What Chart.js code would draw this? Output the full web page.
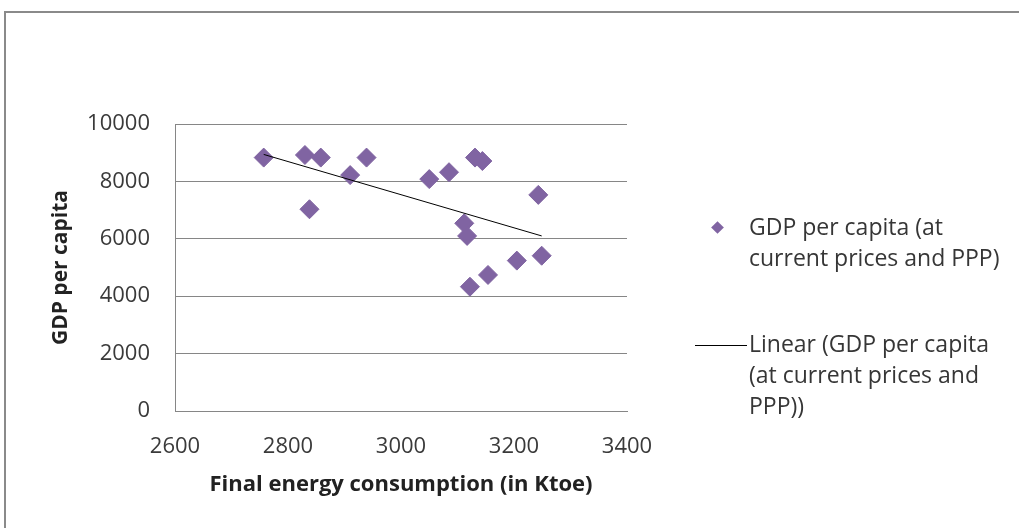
<!DOCTYPE html>
<html>
<head>
<meta charset="utf-8">
<script src="https://cdn.jsdelivr.net/npm/chart.js@4.4.1/dist/chart.umd.min.js"></script>
<style>
  html, body { margin: 0; padding: 0; background: #ffffff; }
  #wrap { position: relative; width: 1019px; height: 528px; overflow: hidden; }
  #chart { position: absolute; left: 0; top: 0; }
  .legend-item { position: absolute; font-family: "Open Sans", sans-serif; font-size: 23px; line-height: 31px; color: #363636; white-space: nowrap; }
  .legend-diamond { position: absolute; width: 9px; height: 9px; background: #8064A2; transform: rotate(45deg); }
  .legend-line { position: absolute; height: 1px; background: #000000; }
</style>
</head>
<body>
<div id="wrap">
  <canvas id="chart" width="1019" height="528"></canvas>
  <div class="legend-diamond" style="left:713px; top:223px;"></div>
  <div class="legend-item" style="left:749px; top:211px;">GDP per capita (at<br>current prices and PPP)</div>
  <div class="legend-line" style="left:695px; top:345px; width:52px;"></div>
  <div class="legend-item" style="left:749px; top:328px;">Linear (GDP per capita<br>(at current prices and<br>PPP))</div>
</div>
<script>
// Final energy consumption (Ktoe) against GDP per capita, one point per year
const energyKtoe = [2757, 2830, 2858, 2939, 2910, 2838, 3050, 3085, 3131, 3144, 3243, 3112, 3117, 3249, 3205, 3154, 3122];
const gdpPerCapita = [8830, 8920, 8830, 8830, 8220, 7030, 8080, 8320, 8830, 8710, 7530, 6540, 6100, 5410, 5240, 4740, 4330];

// Linear trend line end points
const trendEnergy = [2757, 3249];
const trendGdp = [8940, 6100];

// Axis ticks
const xTickValues = [2600, 2800, 3000, 3200, 3400];
const yTickValues = [0, 2000, 4000, 6000, 8000, 10000];

const seriesLabel = 'GDP per capita (at current prices and PPP)';
const trendLabel = 'Linear (GDP per capita (at current prices and PPP))';

const toPoints = (xs, ys) => xs.map((x, i) => ({ x: x, y: ys[i] }));

// Outer frame of the chart object (top and left edges)
const framePlugin = {
  id: 'frame',
  beforeDraw(chart) {
    const ctx = chart.ctx;
    ctx.save();
    ctx.fillStyle = '#ffffff';
    ctx.fillRect(0, 0, chart.width, chart.height);
    ctx.strokeStyle = '#8a8a8a';
    ctx.lineWidth = 2;
    ctx.beginPath();
    ctx.moveTo(5, 528);
    ctx.lineTo(5, 12);
    ctx.lineTo(1019, 12);
    ctx.stroke();
    ctx.restore();
  }
};

const tickFont = { family: '"Open Sans", sans-serif', size: 22 };
const xTitleFont = { family: '"Open Sans", sans-serif', size: 22, weight: 'bold' };
const yTitleFont = { family: '"Open Sans", sans-serif', size: 21, weight: 'bold' };

new Chart(document.getElementById('chart'), {
  type: 'scatter',
  data: {
    datasets: [
      {
        label: trendLabel,
        data: toPoints(trendEnergy, trendGdp),
        showLine: true,
        borderColor: '#000000',
        borderWidth: 1,
        pointRadius: 0,
        fill: false,
        order: 0
      },
      {
        label: seriesLabel,
        data: toPoints(energyKtoe, gdpPerCapita),
        pointStyle: 'rectRot',
        pointRadius: 9.5,
        pointBackgroundColor: '#8064A2',
        pointBorderColor: '#8064A2',
        pointBorderWidth: 1,
        showLine: false,
        order: 1
      }
    ]
  },
  options: {
    responsive: false,
    animation: false,
    devicePixelRatio: 1,
    layout: { padding: { left: 0, right: 392, top: 124, bottom: 0 } },
    plugins: {
      legend: { display: false },
      tooltip: { enabled: false }
    },
    scales: {
      x: {
        type: 'linear',
        min: 2600,
        max: 3400,
        afterBuildTicks(scale) { scale.ticks = xTickValues.map(v => ({ value: v })); },
        afterFit(scale) { scale.height = 117; },
        grid: { display: false, drawTicks: false },
        border: { display: true, color: '#868686', width: 1 },
        ticks: { font: tickFont, color: '#3a3a3a', padding: 23, maxRotation: 0, callback: v => String(v) },
        title: { display: true, text: 'Final energy consumption (in Ktoe)', font: xTitleFont, color: '#222222', padding: { top: 0, bottom: 30 } }
      },
      y: {
        type: 'linear',
        min: 0,
        max: 10000,
        afterBuildTicks(scale) { scale.ticks = yTickValues.map(v => ({ value: v })); },
        afterFit(scale) { scale.width = 175; },
        grid: { color: '#868686', lineWidth: 1, drawTicks: false },
        border: { display: true, color: '#868686', width: 1 },
        ticks: { font: tickFont, color: '#3a3a3a', padding: 25, callback: v => String(v) },
        title: { display: true, text: 'GDP per capita', font: yTitleFont, color: '#222222', padding: { top: 48, bottom: 0 } }
      }
    }
  },
  plugins: [framePlugin]
});
</script>
</body>
</html>
